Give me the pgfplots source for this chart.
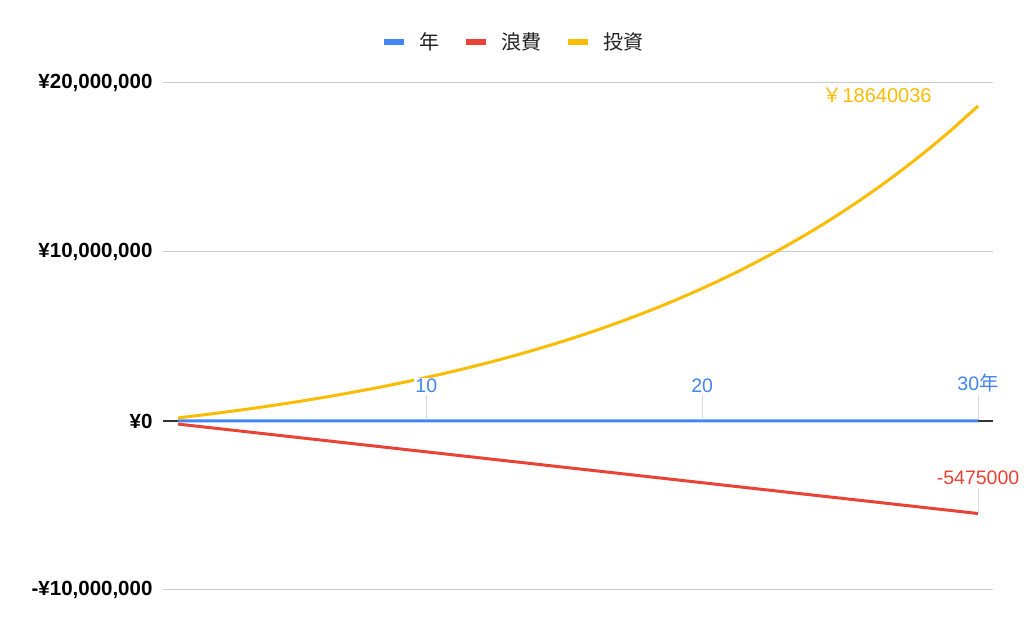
\documentclass[border=0pt]{standalone}
\usepackage{fontspec}
\setmainfont{Liberation Sans}
\newfontfamily\jp{Noto Sans CJK JP}
\usepackage{pgfplots}
\pgfplotsset{compat=1.18}
\definecolor{gblue}{HTML}{4285F4}
\definecolor{gred}{HTML}{EA4335}
\definecolor{gyellow}{HTML}{FBBC04}
\definecolor{ggrid}{HTML}{CCCCCC}
\definecolor{gtext}{HTML}{222222}

\begin{document}
\begin{tikzpicture}
\begin{axis}[
  name=ax,
  scale only axis,
  width=830pt, height=507pt,
  xmin=0.457, xmax=30.543,
  ymin=-10000000, ymax=20000000,
  scaled y ticks=false,
  xtick=\empty,
  ytick={-10000000,10000000,20000000},
  yticklabels={{-¥10,000,000},{¥10,000,000},{¥20,000,000}},
  extra y ticks={0},
  extra y tick labels={¥0},
  extra y tick style={grid style={draw=black!80, line width=1.2pt}},
  ymajorgrids,
  grid style={draw=ggrid, line width=1pt},
  axis line style={draw=none},
  major tick length=0pt,
  yticklabel style={font=\fontsize{20.5}{24}\selectfont\bfseries, text=black, xshift=-7pt},
  clip=false,
  legend columns=-1,
  legend style={at={(0.4235,1.081)}, anchor=center, draw=none, fill=none,
    font=\fontsize{20}{24}\selectfont\jp, text=gtext,
    /tikz/every even column/.append style={column sep=25pt}},
  legend image code/.code={\fill[draw=none] (0pt,-3pt) rectangle (20pt,3pt); \path[draw=none] (20pt,0pt) -- (33pt,0pt);},
  every axis plot/.append style={line width=3pt},
]
% 年: the year numbers 1..30 (plotted against the yen scale, so they sit at zero)
\addplot[gblue] coordinates {
  (1,1) (2,2) (3,3) (4,4) (5,5) (6,6) (7,7) (8,8) (9,9) (10,10)
  (11,11) (12,12) (13,13) (14,14) (15,15) (16,16) (17,17) (18,18) (19,19) (20,20)
  (21,21) (22,22) (23,23) (24,24) (25,25) (26,26) (27,27) (28,28) (29,29) (30,30)
};
\addlegendentry{年}

% 浪費: -182500 per year
\addplot[gred] coordinates {
  (1,-182500) (2,-365000) (3,-547500) (4,-730000) (5,-912500)
  (6,-1095000) (7,-1277500) (8,-1460000) (9,-1642500) (10,-1825000)
  (11,-2007500) (12,-2190000) (13,-2372500) (14,-2555000) (15,-2737500)
  (16,-2920000) (17,-3102500) (18,-3285000) (19,-3467500) (20,-3650000)
  (21,-3832500) (22,-4015000) (23,-4197500) (24,-4380000) (25,-4562500)
  (26,-4745000) (27,-4927500) (28,-5110000) (29,-5292500) (30,-5475000)
};
\addlegendentry{浪費}

% 投資
\addplot[gyellow, smooth] coordinates {
  (1,182500) (2,378560) (3,589187) (4,815463) (5,1058552)
  (6,1319703) (7,1600257) (8,1901656) (9,2225449) (10,2573299)
  (11,2946996) (12,3348457) (13,3779748) (14,4243083) (15,4740844)
  (16,5275589) (17,5850065) (18,6467225) (19,7130240) (20,7842517)
  (21,8607716) (22,9429769) (23,10312901) (24,11261649) (25,12280890)
  (26,13375860) (27,14552186) (28,15815914) (29,17173536) (30,18640036)
};
\addlegendentry{投資}

% data labels
\addplot[draw=none, forget plot, nodes near coords, point meta=explicit symbolic,
  every node near coord/.append style={text=gblue, anchor=south, yshift=26pt,
    fill=white, inner sep=1pt, font=\fontsize{19.5}{22}\selectfont,
    append after command={(\tikzlastnode.south) edge[draw=black!15, line width=1pt] ([yshift=-25pt]\tikzlastnode.south)}}]
  coordinates {(10,10)[10] (20,20)[20] (30,30)[30{\jp 年}]};

\addplot[draw=none, forget plot, nodes near coords, point meta=explicit symbolic,
  every node near coord/.append style={text=gred, anchor=south, yshift=26pt,
    fill=white, inner sep=1pt, font=\fontsize{19.5}{22}\selectfont,
    append after command={(\tikzlastnode.south) edge[draw=black!15, line width=1pt] ([yshift=-25pt]\tikzlastnode.south)}}]
  coordinates {(30,-5475000)[-5475000]};

\addplot[draw=none, forget plot, nodes near coords, point meta=explicit symbolic,
  every node near coord/.append style={text=gyellow, anchor=south east, xshift=-44pt, yshift=1pt,
    inner sep=1pt, font=\fontsize{20}{22}\selectfont}]
  coordinates {(30,18640036)[{\jp ￥}18640036]};
\end{axis}
\pgfresetboundingbox
\path[use as bounding box] ([shift={(-163pt,-43pt)}]ax.south west) rectangle ([shift={(31pt,83pt)}]ax.north east);
\end{tikzpicture}
\end{document}
